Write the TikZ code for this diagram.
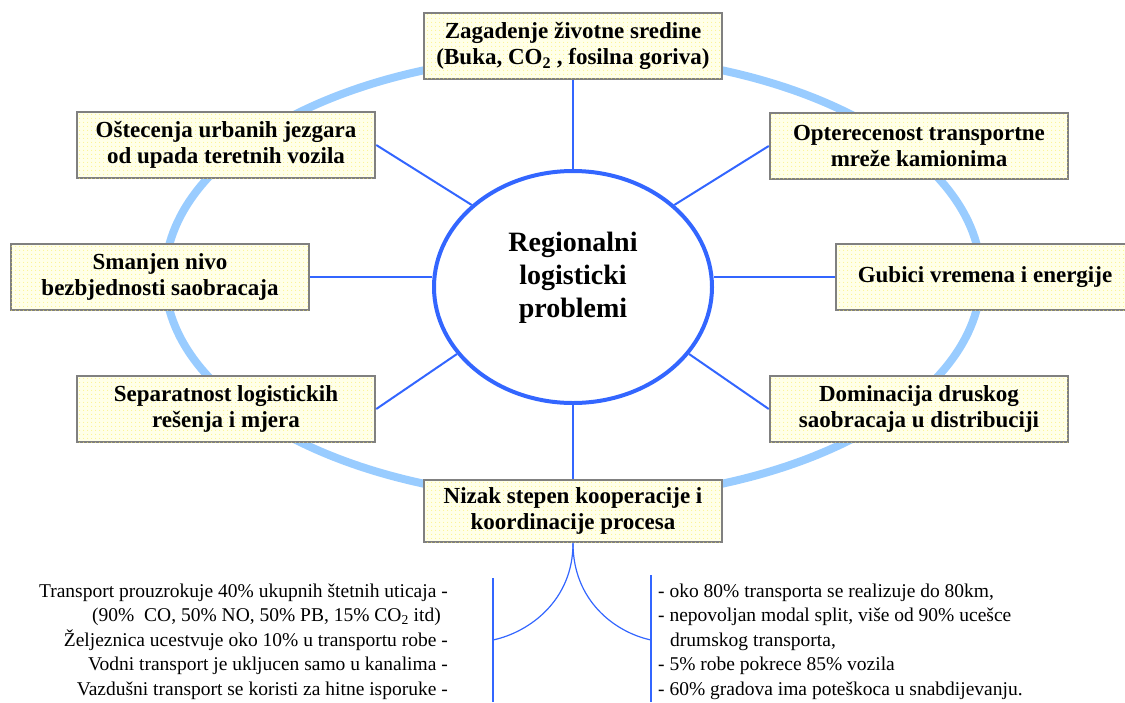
\documentclass[tikz,border=0pt]{standalone}
\usepackage{fontspec}
\setmainfont{Liberation Serif}
\usetikzlibrary{shapes.geometric,patterns.meta}
\definecolor{ringblue}{RGB}{153,204,255}
\definecolor{spokeblue}{RGB}{51,102,255}
\definecolor{boxgray}{RGB}{128,128,128}
\definecolor{boxfill}{RGB}{255,255,232}
\definecolor{dotyellow}{RGB}{250,236,90}
\begin{document}
\begin{tikzpicture}[x=1pt,y=-1pt,
  problem/.style={draw=boxgray, line width=2.5pt, fill=boxfill,
    postaction={pattern={Dots[distance=4pt,radius=0.55pt]}, pattern color=dotyellow},
    minimum width=298pt, minimum height=66pt, inner sep=0pt, align=center,
    font=\fontsize{23}{26.5}\selectfont\bfseries},
  spoke/.style={draw=spokeblue, line width=2pt},
  note/.style={inner sep=0pt, font=\fontsize{19.5}{24}\selectfont},
  bracket/.style={draw=spokeblue, line width=1.2pt}]
\useasboundingbox (0,0) rectangle (1125,702);
\clip (0,0) rectangle (1125,702);

% outer ring linking the problem boxes
\draw[ringblue, line width=8pt] (573,277) ellipse [x radius=408, y radius=222];

% central hub
\node[ellipse, draw=spokeblue, line width=4pt, minimum width=278pt,
      minimum height=232pt, inner sep=0pt] (hub) at (573,287) {};
\node[font=\fontsize{28}{33}\selectfont\bfseries, align=center, inner sep=0pt]
      (hubtext) at (573,278) {Regionalni\\logisticki\\problemi};

% problem boxes
\node[problem] (env)    at (573,46)  {Zagadenje životne sredine\\(Buka, CO\textsubscript{2} , fosilna goriva)};
\node[problem] (urban)  at (226,145) {Oštecenja urbanih jezgara\\od upada teretnih vozila};
\node[problem] (safety) at (160,277) {Smanjen nivo\\bezbjednosti saobracaja};
\node[problem] (separ)  at (226,409) {Separatnost logistickih\\rešenja i mjera};
\node[problem] (trucks) at (919,146) {Opterecenost transportne\\mreže kamionima};
\node[problem] (loss)   at (985,277) {Gubici vremena i energije};
\node[problem] (road)   at (919,409) {Dominacija druskog\\saobracaja u distribuciji};
\node[problem, minimum height=62pt] (coop) at (573,511) {Nizak stepen kooperacije i\\koordinacije procesa};

% spokes from the hub
\draw[spoke] (env.south) -- (hub.north);
\draw[spoke] (hub.south) -- (coop.north);
\draw[spoke] (safety.east) -- (safety.east -| hub.west);
\draw[spoke] (hub.east |- loss.west) -- (loss.west);
\draw[spoke] (urban.east) -- (hub.141);
\draw[spoke] (separ.east) -- (hub.210);
\draw[spoke] (trucks.west) -- (hub.39);
\draw[spoke] (road.west) -- (hub.-30);

% bracket below the cooperation box
\coordinate (ltop) at (493,578);
\coordinate (lfoot) at (493,702);
\coordinate (ljoin) at (493,640);
\coordinate (rtop) at (651,575);
\coordinate (rfoot) at (651,702);
\coordinate (rjoin) at (651,640);
\draw[bracket] (ltop) -- (lfoot);
\draw[bracket] (rtop) -- (rfoot);
\draw[bracket] (coop.south) .. controls (573,600) and (530,632) .. (ljoin);
\draw[bracket] (coop.south) .. controls (573,600) and (614,632) .. (rjoin);

% left notes
\node[note, anchor=base east] (n1) at (448,597)   {Transport prouzrokuje 40\% ukupnih štetnih uticaja -};
\node[note, anchor=base east] (n2) at (441,621.5) {(90\%\ \ CO, 50\% NO, 50\% PB, 15\% CO\textsubscript{2} itd)};
\node[note, anchor=base east] (n3) at (448,646)   {Željeznica ucestvuje oko 10\% u transportu robe -};
\node[note, anchor=base east] (n4) at (448,670.5) {Vodni transport je ukljucen samo u kanalima -};
\node[note, anchor=base east] (n5) at (448,695)   {Vazdušni transport se koristi za hitne isporuke -};

% right notes
\node[note, anchor=base west] (m1) at (658,597)   {- oko 80\% transporta se realizuje do 80km,};
\node[note, anchor=base west] (m2) at (658,621.5) {- nepovoljan modal split, više od 90\% ucešce};
\node[note, anchor=base west] (m3) at (670,646)   {drumskog transporta,};
\node[note, anchor=base west] (m4) at (658,670.5) {- 5\% robe pokrece 85\% vozila};
\node[note, anchor=base west] (m5) at (658,695)   {- 60\% gradova ima poteškoca u snabdijevanju.};
\end{tikzpicture}
\end{document}
